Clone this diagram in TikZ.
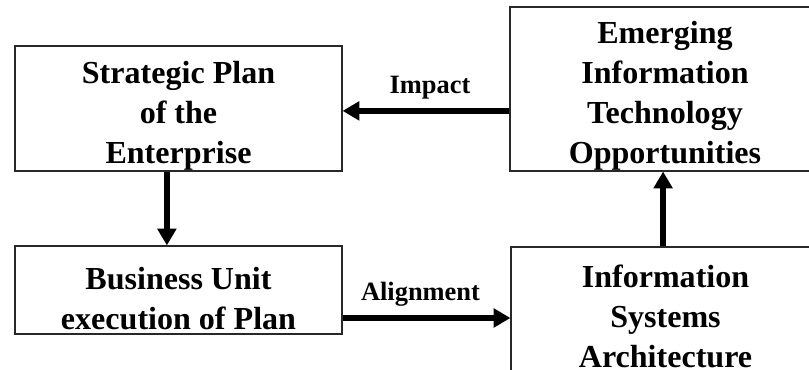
\documentclass[tikz,border=0pt]{standalone}
\usepackage{fontspec}
\setmainfont{Liberation Serif}
\usepackage{tikz}
\usetikzlibrary{arrows.meta,positioning,calc}
\definecolor{FrameGray}{RGB}{40,40,40}

\begin{document}
\begin{tikzpicture}[
    box/.style={draw=FrameGray, line width=0.8pt, inner sep=0pt},
    txt/.style={align=center, inner sep=0pt, font=\fontsize{22.8}{28.4}\selectfont\bfseries},
    flow/.style={-{Triangle[length=4.2mm,width=4.6mm]}, line width=4.2pt},
    lbl/.style={font=\fontsize{18.8}{22}\selectfont\bfseries}]
      \useasboundingbox (0,0) rectangle (20.225,9.225);
      % frames
      \node[box, minimum width=8.175cm, minimum height=3.125cm] (plan) at (4.4625,6.5125) {};
      \node[box, minimum width=7.75cm, minimum height=4.1cm] (emerg) at (16.625,7.0) {};
      \node[box, minimum width=8.175cm, minimum height=2.2cm] (unit) at (4.4625,1.975) {};
      \node[box, minimum width=7.725cm, minimum height=3.4cm] (arch) at (16.6375,1.35) {};
      % texts
      \node[txt] (planT) at ([yshift=-0.18cm]plan.center) {Strategic Plan\\of the\\Enterprise};
      \node[txt] (emergT) at ([yshift=-0.17cm]emerg.center) {Emerging\\Information\\Technology\\Opportunities};
      \node[txt] (unitT) at ([yshift=-0.22cm]unit.center) {Business Unit\\execution of Plan};
      \node[txt] (archT) at ([yshift=-0.03cm]arch.center) {Information\\Systems\\Architecture};
      % connectors
      \draw[flow] ([yshift=-0.06cm]plan.east -| emerg.west) -- node[lbl, above=3pt, xshift=0.1cm] {Impact} ([yshift=-0.06cm]plan.east);
      \draw[flow] ([xshift=-0.29cm]plan.south) -- ([xshift=-0.29cm]unit.north);
      \draw[flow] ([yshift=-0.7cm]unit.east) -- node[lbl, above=3pt, xshift=-0.15cm] {Alignment} ([yshift=-0.7cm]unit.east -| arch.west);
      \draw[flow] ([xshift=-0.06cm]arch.north) -- ([xshift=-0.06cm]arch.north |- emerg.south);
    \end{tikzpicture}
\end{document}
